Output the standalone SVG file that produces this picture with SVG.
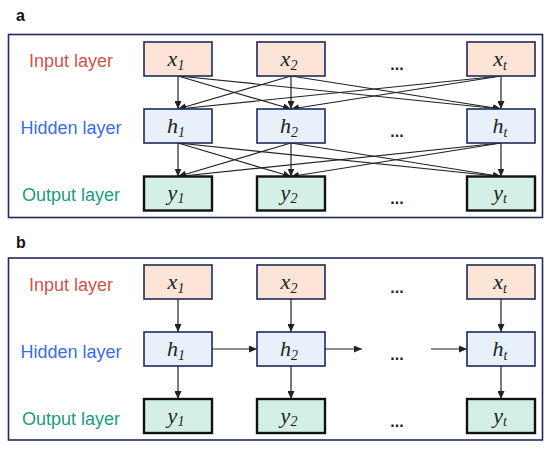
<svg xmlns="http://www.w3.org/2000/svg" width="550" height="452" viewBox="0 0 550 452">
<style>
.frame{fill:#fff;stroke:#1f2a5c;stroke-width:1.6}
.in{fill:#fce4d6;stroke:#1f2a5c;stroke-width:1.6}
.hid{fill:#e8f0fc;stroke:#1f2a5c;stroke-width:1.6}
.out{fill:#d4f0e6;stroke:#111;stroke-width:2.4}
.var{font-family:"Liberation Serif","Times New Roman",serif;font-style:italic;font-size:22px;fill:#222;text-anchor:middle}
.sub{font-size:14px}
.lbl{font-family:"Liberation Sans",Arial,sans-serif;font-size:18px;text-anchor:middle}
.lin{fill:#c9554f}.lhid{fill:#3a6ee0}.lout{fill:#1e9a82}
.pl{font-family:"Liberation Sans",Arial,sans-serif;font-weight:bold;font-size:16px;fill:#111}
.dots{font-family:"Liberation Sans",Arial,sans-serif;font-weight:bold;font-size:16px;fill:#222;text-anchor:middle}
.c{stroke:#222;stroke-width:1.2;fill:none;marker-end:url(#ah)}
</style>
<defs>
<marker id="ah" markerWidth="9" markerHeight="7" refX="8" refY="3.5" orient="auto" markerUnits="userSpaceOnUse">
<path d="M0,0 L8,3.5 L0,7 z" fill="#222"/>
</marker>
</defs>
<rect width="550" height="452" fill="#fff"/>
<text class="pl" x="16" y="21">a</text>
<text class="pl" x="16" y="247.5">b</text>
<rect class="frame" x="8.5" y="34.5" width="534" height="183"/>
<rect class="frame" x="8.5" y="258" width="534" height="182"/>
<g id="labels-a">
<text class="lbl lin" x="71" y="67">Input layer</text>
<text class="lbl lhid" x="71" y="134">Hidden layer</text>
<text class="lbl lout" x="71" y="201">Output layer</text>
</g>
<g id="labels-b">
<text class="lbl lin" x="71" y="290.5">Input layer</text>
<text class="lbl lhid" x="71" y="357.5">Hidden layer</text>
<text class="lbl lout" x="71" y="424.5">Output layer</text>
</g>
<g id="connectors">
<line class="c" x1="178" y1="76" x2="178" y2="109"/>
<line class="c" x1="178" y1="76" x2="291" y2="109"/>
<line class="c" x1="178" y1="76" x2="501" y2="109"/>
<line class="c" x1="291" y1="76" x2="178" y2="109"/>
<line class="c" x1="291" y1="76" x2="291" y2="109"/>
<line class="c" x1="291" y1="76" x2="501" y2="109"/>
<line class="c" x1="501" y1="76" x2="178" y2="109"/>
<line class="c" x1="501" y1="76" x2="291" y2="109"/>
<line class="c" x1="501" y1="76" x2="501" y2="109"/>
<line class="c" x1="178" y1="143" x2="178" y2="176.5"/>
<line class="c" x1="178" y1="143" x2="291" y2="176.5"/>
<line class="c" x1="178" y1="143" x2="501" y2="176.5"/>
<line class="c" x1="291" y1="143" x2="178" y2="176.5"/>
<line class="c" x1="291" y1="143" x2="291" y2="176.5"/>
<line class="c" x1="291" y1="143" x2="501" y2="176.5"/>
<line class="c" x1="501" y1="143" x2="178" y2="176.5"/>
<line class="c" x1="501" y1="143" x2="291" y2="176.5"/>
<line class="c" x1="501" y1="143" x2="501" y2="176.5"/>
<line class="c" x1="178" y1="299" x2="178" y2="332"/>
<line class="c" x1="291" y1="299" x2="291" y2="332"/>
<line class="c" x1="501" y1="299" x2="501" y2="332"/>
<line class="c" x1="178" y1="366" x2="178" y2="399"/>
<line class="c" x1="291" y1="366" x2="291" y2="399"/>
<line class="c" x1="501" y1="366" x2="501" y2="399"/>
<line class="c" x1="212" y1="349" x2="257" y2="349"/>
<line class="c" x1="325" y1="349" x2="362" y2="349"/>
<line class="c" x1="431" y1="349" x2="467" y2="349"/>
</g>
<g id="a-x1"><rect class="in" x="144" y="42" width="68" height="34"/><text class="var" x="176" y="66">x<tspan class="sub" dy="3.5">1</tspan></text></g>
<g id="a-x2"><rect class="in" x="257" y="42" width="68" height="34"/><text class="var" x="289" y="66">x<tspan class="sub" dy="3.5">2</tspan></text></g>
<g id="a-xt"><rect class="in" x="467" y="42" width="68" height="34"/><text class="var" x="500" y="66">x<tspan class="sub" dy="3.5">t</tspan></text></g>
<g id="a-h1"><rect class="hid" x="144" y="109" width="68" height="34"/><text class="var" x="176" y="133">h<tspan class="sub" dy="3.5">1</tspan></text></g>
<g id="a-h2"><rect class="hid" x="257" y="109" width="68" height="34"/><text class="var" x="289" y="133">h<tspan class="sub" dy="3.5">2</tspan></text></g>
<g id="a-ht"><rect class="hid" x="467" y="109" width="68" height="34"/><text class="var" x="500" y="133">h<tspan class="sub" dy="3.5">t</tspan></text></g>
<g id="a-y1"><rect class="out" x="144" y="176.5" width="68" height="34"/><text class="var" x="176" y="200">y<tspan class="sub" dy="3">1</tspan></text></g>
<g id="a-y2"><rect class="out" x="257" y="176.5" width="68" height="34"/><text class="var" x="289" y="200">y<tspan class="sub" dy="3">2</tspan></text></g>
<g id="a-yt"><rect class="out" x="467" y="176.5" width="68" height="34"/><text class="var" x="500" y="200">y<tspan class="sub" dy="3">t</tspan></text></g>
<g id="a-dots">
<text class="dots" x="397" y="70">...</text>
<text class="dots" x="397" y="137">...</text>
<text class="dots" x="397" y="203.5">...</text>
</g>
<g id="b-x1"><rect class="in" x="144" y="265" width="68" height="34"/><text class="var" x="176" y="289">x<tspan class="sub" dy="3.5">1</tspan></text></g>
<g id="b-x2"><rect class="in" x="257" y="265" width="68" height="34"/><text class="var" x="289" y="289">x<tspan class="sub" dy="3.5">2</tspan></text></g>
<g id="b-xt"><rect class="in" x="467" y="265" width="68" height="34"/><text class="var" x="500" y="289">x<tspan class="sub" dy="3.5">t</tspan></text></g>
<g id="b-h1"><rect class="hid" x="144" y="332" width="68" height="34"/><text class="var" x="176" y="356">h<tspan class="sub" dy="3.5">1</tspan></text></g>
<g id="b-h2"><rect class="hid" x="257" y="332" width="68" height="34"/><text class="var" x="289" y="356">h<tspan class="sub" dy="3.5">2</tspan></text></g>
<g id="b-ht"><rect class="hid" x="467" y="332" width="68" height="34"/><text class="var" x="500" y="356">h<tspan class="sub" dy="3.5">t</tspan></text></g>
<g id="b-y1"><rect class="out" x="144" y="399" width="68" height="34"/><text class="var" x="176" y="423">y<tspan class="sub" dy="3">1</tspan></text></g>
<g id="b-y2"><rect class="out" x="257" y="399" width="68" height="34"/><text class="var" x="289" y="423">y<tspan class="sub" dy="3">2</tspan></text></g>
<g id="b-yt"><rect class="out" x="467" y="399" width="68" height="34"/><text class="var" x="500" y="423">y<tspan class="sub" dy="3">t</tspan></text></g>
<g id="b-dots">
<text class="dots" x="397" y="293">...</text>
<text class="dots" x="397" y="360">...</text>
<text class="dots" x="397" y="427">...</text>
</g>
</svg>
